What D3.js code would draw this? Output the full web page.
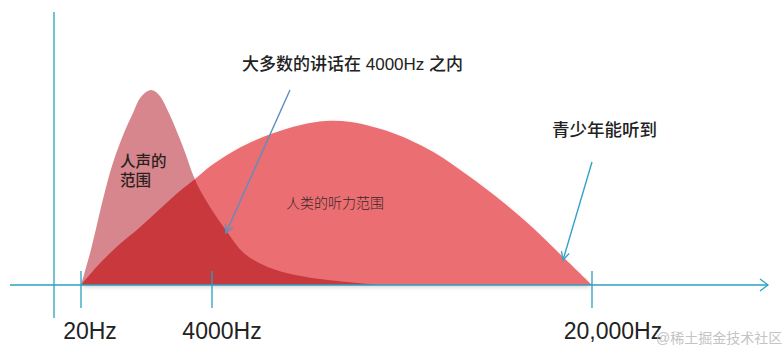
<!DOCTYPE html>
<html>
<head>
<meta charset="utf-8">
<script src="https://cdn.jsdelivr.net/npm/d3@7"></script>
<style>
  html, body { margin: 0; padding: 0; background: #fff; }
  svg { display: block; }
  text { font-family: "Liberation Sans", "Noto Sans CJK SC", sans-serif; }
</style>
</head>
<body>
<div id="chart"></div>
<script>
// Voice range vs. human hearing range.
const tickHz = [20, 4000, 20000];
const tickLabels = ['20Hz', '4000Hz', '20,000Hz'];

const hearingHz = [20, 630, 1235, 1750, 2450, 3060, 3450, 4000, 5220, 6480, 7740, 8790, 9840, 11100, 11940, 13320, 14750, 16140, 17520, 18780, 20000];
const hearingLevel = [0, 11.5, 21, 28, 38.5, 47.5, 52.5, 60, 69, 75.5, 80, 82, 81.5, 78, 74.5, 66.5, 55, 42.5, 28.5, 14, 0];

const voiceHz = [20, 320, 720, 990, 1300, 1600, 1840, 2150, 2390, 2690, 3120, 3450, 3670, 4080, 4670, 5340, 6350, 7740, 9710, 11100];
const voiceLevel = [0, 17.5, 45, 61, 75, 86, 94, 97.5, 95, 86, 69, 54, 46.5, 36, 26, 16, 9, 4.5, 1.5, 0];

(function(){
  const W = 784, H = 352;
  const svg = d3.select('#chart').append('svg').attr('width', W).attr('height', H);
  const defs = svg.append('defs');

  // Piecewise scale: the sketch squeezes 20-4000Hz and stretches the rest.
  const x = d3.scaleLinear().domain(tickHz).range([81, 212, 592]);
  const y = d3.scaleLinear().domain([0, 100]).range([285, 85]);

  const hearing = hearingHz.map((hz, i) => ({hz, level: hearingLevel[i]}));
  const voice = voiceHz.map((hz, i) => ({hz, level: voiceLevel[i]}));

  const area = d3.area()
    .x(d => x(d.hz))
    .y0(y(0))
    .y1(d => y(d.level))
    .curve(d3.curveCatmullRom.alpha(0.5));

  // soft shadow under the shapes
  const shadow = defs.append('filter').attr('id', 'soft').attr('x', '-10%').attr('y', '-10%').attr('width', '120%').attr('height', '130%');
  shadow.append('feDropShadow').attr('dx', 0).attr('dy', 2).attr('stdDeviation', 2)
    .attr('flood-color', '#000').attr('flood-opacity', 0.18);

  defs.append('clipPath').attr('id', 'hearing-clip')
    .append('path').attr('d', area(hearing));

  const plot = svg.append('g');
  plot.append('path').attr('d', area(hearing)).attr('fill', '#eb6e73').attr('filter', 'url(#soft)');
  plot.append('path').attr('d', area(voice)).attr('fill', '#d6868c');
  plot.append('path').attr('d', area(voice)).attr('fill', '#c8383d').attr('clip-path', 'url(#hearing-clip)');

  // axes
  const axisColor = '#2aa0c0';
  const axes = svg.append('g').attr('stroke', axisColor).attr('stroke-width', 1.3).attr('fill', 'none');
  axes.append('line').attr('x1', 10).attr('x2', 768).attr('y1', y(0)).attr('y2', y(0));
  axes.append('path').attr('d', `M760,${y(0) - 6}L768,${y(0)}L760,${y(0) + 6}`);
  axes.append('line').attr('x1', 54).attr('x2', 54).attr('y1', 12).attr('y2', 318);

  const labelDx = [9, 10, 21];
  const ticks = svg.append('g');
  ticks.selectAll('line').data(tickHz).join('line')
    .attr('x1', d => x(d)).attr('x2', d => x(d))
    .attr('y1', 271).attr('y2', 308)
    .attr('stroke', axisColor).attr('stroke-width', 1.3);
  ticks.selectAll('text').data(tickLabels).join('text')
    .attr('x', (d, i) => x(tickHz[i]) + labelDx[i])
    .attr('y', 339)
    .attr('text-anchor', 'middle')
    .attr('fill', '#222')
    .style('font-size', '23px')
    .text(d => d);

  // arrows
  function arrow(id, color, x1, y1, x2, y2){
    defs.append('marker').attr('id', id)
      .attr('viewBox', '0 0 10 10').attr('refX', 9).attr('refY', 5)
      .attr('markerWidth', 10).attr('markerHeight', 10)
      .attr('markerUnits', 'userSpaceOnUse').attr('orient', 'auto')
      .append('path').attr('d', 'M1,1L9,5L1,9')
      .attr('fill', 'none').attr('stroke', color).attr('stroke-width', 1.3);
    svg.append('line').attr('x1', x1).attr('y1', y1).attr('x2', x2).attr('y2', y2)
      .attr('stroke', color).attr('stroke-width', 1.4).attr('marker-end', `url(#${id})`);
  }
  arrow('a1', '#5a8fbf', 290, 90, x(4670) - 2, y(26));
  arrow('a2', '#34a2c6', 592, 162, x(18780), y(14) + 3);

  // annotations
  svg.append('text').attr('x', 242).attr('y', 70).attr('fill', '#222')
    .style('font-size', '17px').style('font-weight', 500)
    .text('大多数的讲话在 4000Hz 之内');
  svg.append('text').attr('x', 552).attr('y', 136).attr('fill', '#222')
    .style('font-size', '17.5px').style('font-weight', 500)
    .text('青少年能听到');
  const voiceLabel = svg.append('text').attr('fill', '#2a2222')
    .style('font-size', '15.5px').style('font-weight', 500);
  voiceLabel.append('tspan').attr('x', 120).attr('y', 167).text('人声的');
  voiceLabel.append('tspan').attr('x', 120).attr('y', 186).text('范围');
  svg.append('text').attr('x', 286).attr('y', 208).attr('fill', '#3a2626')
    .style('font-size', '14px').style('font-weight', 300)
    .text('人类的听力范围');

  // source watermark
  svg.append('text').attr('x', 656).attr('y', 343).attr('fill', '#c4c4c4')
    .style('font-size', '14px')
    .text('@稀土掘金技术社区');
})();
</script>
</body>
</html>
